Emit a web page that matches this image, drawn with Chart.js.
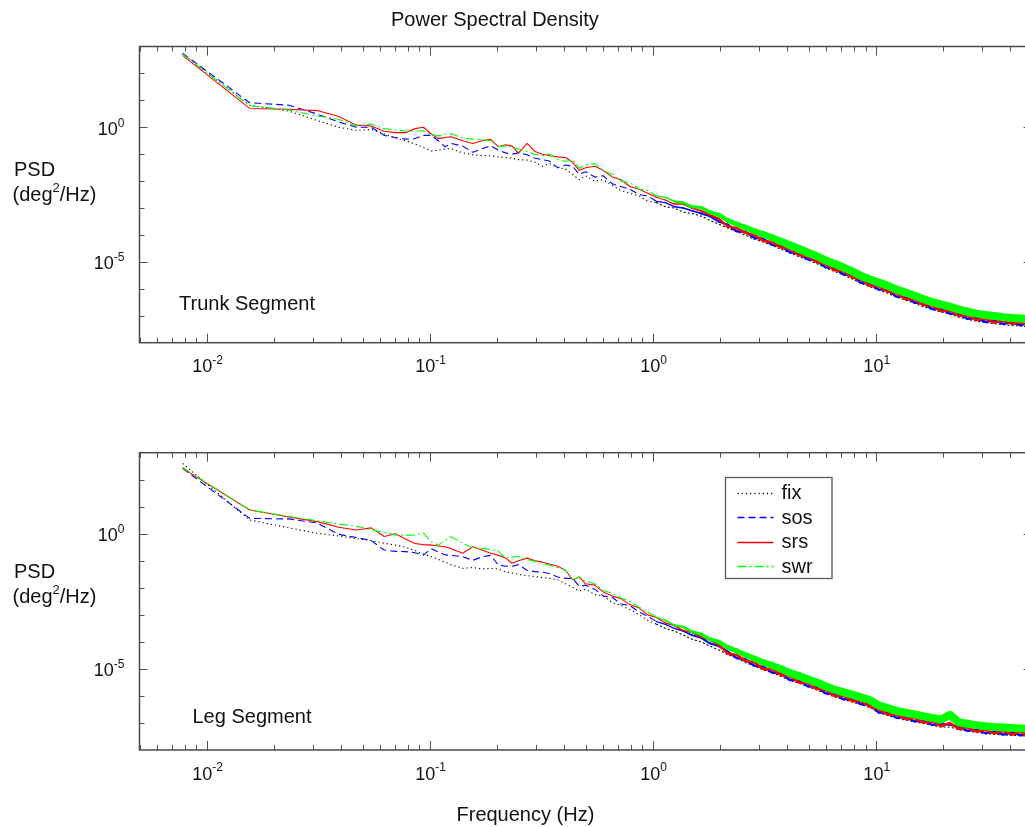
<!DOCTYPE html>
<html>
<head>
<meta charset="utf-8">
<title>Power Spectral Density</title>
<script src="https://cdn.jsdelivr.net/npm/chart.js@4.4.1/dist/chart.umd.min.js"></script>
<style>
  html, body { margin: 0; padding: 0; background: #fff; overflow: hidden; }
  #wrap { position: relative; width: 1025px; height: 827px; overflow: hidden; }
  canvas { position: absolute; left: 0; top: 0; }
</style>
</head>
<body>
<div id="wrap">
  <canvas id="trunk" width="1060" height="827"></canvas>
  <canvas id="leg" width="1060" height="827"></canvas>
</div>
<script>
// frequency bins (Hz) shared by every trace
const freqs = [
  0.0078, 0.0156, 0.0234, 0.0313, 0.0391, 0.0469, 0.0547, 0.0625,
  0.0703, 0.0781, 0.0859, 0.0938, 0.1016, 0.1094, 0.1172, 0.125,
  0.1406, 0.1563, 0.1719, 0.1875, 0.2031, 0.2188, 0.2344, 0.25,
  0.2734, 0.2969, 0.3203, 0.3438, 0.375, 0.4063, 0.4375, 0.4688,
  0.5, 0.55, 0.6, 0.66, 0.72, 0.79, 0.87, 0.95,
  1.04, 1.14, 1.25, 1.37, 1.5, 1.65, 1.8, 1.98,
  2.17, 2.38, 2.6, 2.85, 3.13, 3.43, 3.76, 4.12,
  4.52, 4.95, 5.43, 5.95, 6.52, 7.15, 7.84, 8.6,
  9.4, 10.3, 11.3, 12.4, 13.6, 14.9, 16.3, 17.9,
  19.6, 21.5, 23.6, 25.8, 28.3, 31.0, 34.0, 37.3,
  40.9, 44.8, 47
];

// PSD values as log10(deg^2/Hz)
const trunkFix = [
  2.72, 0.82, 0.6, 0.25, 0.0, -0.12, -0.08, -0.25,
  -0.4, -0.5, -0.62, -0.75, -0.88, -0.85, -0.8, -0.8,
  -0.95, -1.02, -1.05, -1.06, -1.1, -1.12, -1.15, -1.2,
  -1.22, -1.3, -1.45, -1.35, -1.5, -1.55, -1.75, -1.95,
  -1.8, -2.0, -1.95, -2.15, -2.35, -2.45, -2.55, -2.75,
  -2.8, -2.95, -3.0, -3.15, -3.2, -3.3, -3.45, -3.6,
  -3.74, -3.88, -4.0, -4.15, -4.26, -4.38, -4.53, -4.66,
  -4.8, -4.93, -5.06, -5.22, -5.35, -5.48, -5.63, -5.8,
  -5.92, -6.04, -6.16, -6.31, -6.42, -6.53, -6.66, -6.77,
  -6.86, -6.94, -7.05, -7.13, -7.2, -7.25, -7.29, -7.33,
  -7.36, -7.38, -7.4
];
const trunkSos = [
  2.75, 0.91, 0.82, 0.49, 0.2, 0.0, 0.0, -0.3,
  -0.38, -0.44, -0.42, -0.3, -0.3, -0.5, -0.72, -0.6,
  -0.7, -0.93, -0.8, -0.68, -0.85, -0.95, -1.0, -0.95,
  -1.02, -1.15, -1.2, -1.25, -1.5, -1.4, -1.45, -1.75,
  -1.65, -1.85, -1.8, -2.1, -2.2, -2.3, -2.5, -2.55,
  -2.75, -2.8, -2.95, -3.0, -3.1, -3.2, -3.3, -3.5,
  -3.62, -3.86, -3.88, -4.1, -4.14, -4.36, -4.4, -4.64,
  -4.68, -4.9, -4.94, -5.2, -5.23, -5.46, -5.5, -5.78,
  -5.8, -6.02, -6.04, -6.29, -6.3, -6.51, -6.54, -6.75,
  -6.74, -6.92, -6.93, -7.11, -7.08, -7.23, -7.17, -7.3,
  -7.24, -7.36, -7.28
];
const trunkSrs = [
  2.67, 0.7, 0.67, 0.62, 0.4, 0.08, 0.05, -0.15,
  -0.2, -0.2, -0.05, 0.0, -0.25, -0.42, -0.38, -0.35,
  -0.5, -0.6, -0.5, -0.45, -0.72, -0.65, -0.7, -0.96,
  -0.6, -0.9, -1.0, -1.05, -1.1, -1.12, -1.3, -1.6,
  -1.5, -1.45, -1.6, -1.85, -1.95, -2.2, -2.3, -2.45,
  -2.6, -2.7, -2.85, -2.85, -3.0, -3.1, -3.25, -3.4,
  -3.69, -3.74, -3.92, -3.99, -4.22, -4.26, -4.46, -4.51,
  -4.75, -4.79, -5.0, -5.07, -5.31, -5.34, -5.57, -5.65,
  -5.88, -5.9, -6.1, -6.16, -6.38, -6.39, -6.6, -6.62,
  -6.82, -6.8, -7.0, -6.98, -7.16, -7.1, -7.25, -7.18,
  -7.3, -7.24, -7.32
];
const trunkSwr = [
  2.72, 0.8, 0.64, 0.42, 0.3, 0.05, 0.12, -0.05,
  -0.1, -0.14, -0.14, -0.13, -0.28, -0.32, -0.26, -0.24,
  -0.4, -0.44, -0.46, -0.5, -0.72, -0.69, -0.75, -0.8,
  -0.9, -1.0, -1.06, -0.99, -1.2, -1.27, -1.21, -1.51,
  -1.4, -1.35, -1.6, -1.75, -2.0, -2.05, -2.3, -2.35,
  -2.55, -2.6, -2.75, -2.8, -2.95, -2.98, -3.15, -3.25,
  -3.46, -3.6, -3.72, -3.86, -3.98, -4.1, -4.24, -4.38,
  -4.52, -4.65, -4.78, -4.94, -5.07, -5.2, -5.35, -5.52,
  -5.64, -5.76, -5.88, -6.03, -6.14, -6.25, -6.38, -6.49,
  -6.58, -6.66, -6.77, -6.85, -6.92, -6.97, -7.01, -7.05,
  -7.08, -7.1, -7.12
];

const legFix = [
  2.6, 0.51, 0.22, 0.02, -0.08, -0.18, -0.25, -0.35,
  -0.42, -0.5, -0.62, -0.75, -0.85, -0.95, -1.05, -1.15,
  -1.28, -1.25, -1.3, -1.28, -1.3, -1.4, -1.45, -1.5,
  -1.55, -1.58, -1.62, -1.65, -1.7, -1.85, -1.98, -2.12,
  -2.05, -2.25, -2.3, -2.55, -2.65, -2.8, -3.0, -3.2,
  -3.35, -3.5, -3.6, -3.75, -3.9, -4.0, -4.15, -4.3,
  -4.47, -4.6, -4.76, -4.89, -5.03, -5.14, -5.28, -5.42,
  -5.53, -5.65, -5.77, -5.91, -6.03, -6.13, -6.22, -6.33,
  -6.42, -6.62, -6.72, -6.82, -6.89, -6.95, -7.02, -7.08,
  -7.15, -7.15, -7.25, -7.3, -7.35, -7.39, -7.42, -7.44,
  -7.46, -7.47, -7.48
];
const legSos = [
  2.42, 0.57, 0.55, 0.4, -0.02, -0.14, -0.25, -0.6,
  -0.65, -0.66, -0.7, -0.79, -0.55, -0.68, -0.78, -0.8,
  -0.85, -0.98, -0.85, -0.8, -1.15, -1.2, -1.2, -1.14,
  -1.35, -1.4, -1.42, -1.47, -1.6, -1.65, -1.65, -1.95,
  -1.9, -2.05, -2.3, -2.35, -2.6, -2.65, -2.9, -3.05,
  -3.25, -3.35, -3.5, -3.6, -3.75, -3.85, -4.05, -4.15,
  -4.36, -4.6, -4.64, -4.88, -4.92, -5.13, -5.16, -5.41,
  -5.42, -5.64, -5.66, -5.9, -5.92, -6.12, -6.11, -6.31,
  -6.31, -6.61, -6.61, -6.81, -6.78, -6.94, -6.91, -7.07,
  -7.04, -7.06, -7.14, -7.29, -7.24, -7.38, -7.31, -7.43,
  -7.35, -7.46, -7.37
];
const legSrs = [
  2.42, 0.88, 0.62, 0.45, 0.24, 0.14, 0.22, -0.1,
  0.0, -0.2, -0.36, -0.4, -0.42, -0.45, -0.48, -0.55,
  -0.72, -0.48, -0.6, -0.72, -0.79, -0.9, -1.09, -1.0,
  -0.9, -1.0, -1.05, -1.12, -1.2, -1.35, -1.7, -1.6,
  -1.85, -1.9, -2.15, -2.3, -2.4, -2.62, -2.75, -3.0,
  -3.1, -3.3, -3.4, -3.58, -3.65, -3.82, -3.92, -4.12,
  -4.43, -4.48, -4.7, -4.75, -5.0, -5.01, -5.22, -5.28,
  -5.5, -5.52, -5.74, -5.77, -6.0, -5.99, -6.19, -6.18,
  -6.39, -6.49, -6.69, -6.68, -6.86, -6.81, -6.99, -6.94,
  -7.12, -7.0, -7.22, -7.16, -7.32, -7.25, -7.39, -7.3,
  -7.43, -7.33, -7.45
];
const legSwr = [
  2.45, 0.88, 0.64, 0.48, 0.36, 0.28, 0.15, 0.05,
  -0.04, -0.06, -0.04, 0.03, -0.3, -0.42, -0.25, -0.11,
  -0.35, -0.52, -0.54, -0.58, -0.64, -0.9, -0.86, -0.84,
  -0.95, -1.02, -1.1, -1.16, -1.25, -1.35, -1.71, -1.6,
  -1.75, -1.85, -2.1, -2.2, -2.38, -2.5, -2.72, -2.9,
  -3.08, -3.2, -3.38, -3.45, -3.62, -3.72, -3.9, -4.0,
  -4.2, -4.34, -4.48, -4.62, -4.76, -4.87, -5.0, -5.15,
  -5.26, -5.38, -5.5, -5.64, -5.76, -5.86, -5.95, -6.05,
  -6.15, -6.35, -6.45, -6.55, -6.62, -6.68, -6.75, -6.81,
  -6.88, -6.7, -6.98, -7.03, -7.08, -7.12, -7.15, -7.17,
  -7.19, -7.2, -7.21
];

const seriesNames = ["fix", "sos", "srs", "swr"];
const xLabelExps = [-2, -1, 0, 1];
const yLabelExps = [0, -5];

const FONT = '"Liberation Sans", Arial, Helvetica, sans-serif';
const INK = "#111";

// the dense high-frequency traces are drawn as thicker strokes so they read as a band
const clampW = (lo, hi, w) => Math.max(lo, Math.min(hi, w));
const styles = {
  fix: { color: "#000000", dash: [1.2, 3], order: 3, width: () => 1.1 },
  sos: { color: "#0000ff", dash: [7, 4], order: 2, width: (f) => clampW(1.1, 2.4, 1.1 + 4 * Math.log10(f)) },
  srs: { color: "#ff0000", dash: [], order: 1, width: (f) => clampW(1.1, 2.6, 1.1 + 4 * Math.log10(f)) },
  swr: { color: "#00ff00", dash: [9, 3, 2, 3], order: 0, width: (f) => clampW(1.1, 8, 1.1 + 11 * Math.log10(f)) }
};

function makeDataset(name, vals) {
  const s = styles[name];
  return {
    label: name,
    data: freqs.map((f, i) => ({ x: f, y: Math.pow(10, vals[i]) })),
    borderColor: s.color,
    borderWidth: 1.1,
    borderDash: s.dash,
    borderJoinStyle: "round",
    pointRadius: 0,
    tension: 0,
    fill: false,
    order: s.order,
    segment: {
      borderDash: (ctx) => (name !== "fix" && freqs[ctx.p0DataIndex] >= 1 ? [] : s.dash),
      borderWidth: (ctx) => s.width(freqs[ctx.p0DataIndex]),
      borderCapStyle: (ctx) => (freqs[ctx.p0DataIndex] >= 1 ? "round" : "butt")
    }
  };
}

// draw a run of text pieces; pieces flagged sup are smaller and raised
function richText(ctx, parts, x, y, align, size) {
  const supSize = Math.round(size * 0.66);
  const widths = parts.map((p) => {
    ctx.font = (p.sup ? supSize : size) + "px " + FONT;
    return ctx.measureText(p.t).width;
  });
  const total = widths.reduce((a, b) => a + b, 0);
  let cx = align === "center" ? x - total / 2 : align === "right" ? x - total : x;
  ctx.textAlign = "left";
  ctx.textBaseline = "alphabetic";
  parts.forEach((p, i) => {
    ctx.font = (p.sup ? supSize : size) + "px " + FONT;
    ctx.fillText(p.t, cx, p.sup ? y - size * 0.45 : y);
    cx += widths[i];
  });
}

const decor = {
  id: "decor",
  afterDraw(chart, args, opts) {
    const ctx = chart.ctx;
    const a = chart.chartArea;
    const xs = chart.scales.x;
    const ys = chart.scales.y;
    ctx.save();

    // tick marks point inward on all four sides
    ctx.strokeStyle = "#505050";
    ctx.lineWidth = 1;
    ctx.beginPath();
    for (let e = -3; e <= 1; e++) {
      for (let m = 1; m <= 9; m++) {
        const v = m * Math.pow(10, e);
        if (v < xs.min || v > xs.max) continue;
        const px = Math.round(xs.getPixelForValue(v)) + 0.5;
        const len = m === 1 ? 9 : 5;
        ctx.moveTo(px, a.bottom); ctx.lineTo(px, a.bottom - len);
        ctx.moveTo(px, a.top); ctx.lineTo(px, a.top + len);
      }
    }
    for (let e = -7; e <= 2; e++) {
      const py = Math.round(ys.getPixelForValue(Math.pow(10, e))) + 0.5;
      const len = e % 5 === 0 ? 8 : 5;
      ctx.moveTo(a.left, py); ctx.lineTo(a.left + len, py);
      ctx.moveTo(a.right, py); ctx.lineTo(a.right - len, py);
    }
    ctx.stroke();

    ctx.lineWidth = 1.5;
    ctx.strokeStyle = "#4a4a4a";
    ctx.strokeRect(a.left, a.top, a.right - a.left, a.bottom - a.top);

    ctx.fillStyle = INK;
    xLabelExps.forEach((e) => {
      const px = xs.getPixelForValue(Math.pow(10, e));
      richText(ctx, [{ t: "10" }, { t: String(e), sup: true }], px + 1, a.bottom + 29.5, "center", 18);
    });
    yLabelExps.forEach((e) => {
      const py = ys.getPixelForValue(Math.pow(10, e));
      richText(ctx, [{ t: "10" }, { t: String(e), sup: true }], a.left - 15, py + 7.5, "right", 18);
    });

    // y axis title
    ctx.font = "20px " + FONT;
    ctx.textAlign = "left";
    ctx.fillText("PSD", 14, opts.psdY);
    richText(ctx, [{ t: "(deg" }, { t: "2", sup: true }, { t: "/Hz)" }], 12.5, opts.psdY + 25.5, "left", 20);

    // panel name
    ctx.font = "20px " + FONT;
    ctx.fillText(opts.panel, opts.panelX, opts.panelY);

    if (opts.title) {
      ctx.font = "20px " + FONT;
      ctx.fillText(opts.title, opts.titleX, opts.titleY);
    }
    if (opts.xTitle) {
      ctx.font = "20px " + FONT;
      ctx.fillText(opts.xTitle, opts.xTitleX, opts.xTitleY);
    }

    if (opts.legend) {
      const [lx, ly, lw, lh] = opts.legend;
      ctx.fillStyle = "#fff";
      ctx.fillRect(lx, ly, lw, lh);
      ctx.lineWidth = 1.3;
      ctx.strokeStyle = "#5a5a5a";
      ctx.strokeRect(lx, ly, lw, lh);
      seriesNames.forEach((name, i) => {
        const ds = chart.data.datasets.find((d) => d.label === name);
        const rowY = ly + 15 + i * 24.6;
        ctx.beginPath();
        ctx.setLineDash(ds.borderDash);
        ctx.strokeStyle = ds.borderColor;
        ctx.lineWidth = 1.3;
        ctx.moveTo(lx + 12, Math.round(rowY) + 0.5);
        ctx.lineTo(lx + 48, Math.round(rowY) + 0.5);
        ctx.stroke();
        ctx.setLineDash([]);
        ctx.fillStyle = INK;
        ctx.font = "20px " + FONT;
        ctx.fillText(ds.label, lx + 56, rowY + 6.5);
      });
    }
    ctx.restore();
  }
};

function buildChart(id, vals, pad, decorOpts) {
  return new Chart(document.getElementById(id), {
    type: "line",
    data: {
      datasets: seriesNames.map((n, i) => makeDataset(n, vals[i]))
    },
    options: {
      responsive: false,
      animation: false,
      devicePixelRatio: 1,
      layout: { padding: pad },
      scales: {
        x: { type: "logarithmic", min: 0.005, max: 50, display: false },
        y: { type: "logarithmic", min: 1e-8, max: 1e3, display: false }
      },
      plugins: {
        legend: { display: false },
        tooltip: { enabled: false },
        decor: decorOpts
      }
    },
    plugins: [decor]
  });
}

buildChart("trunk", [trunkFix, trunkSos, trunkSrs, trunkSwr],
  { left: 139.5, right: 28.4, top: 46.5, bottom: 484.3 },
  { panel: "Trunk Segment", panelX: 179, panelY: 309.5, psdY: 175.5,
    title: "Power Spectral Density", titleX: 391, titleY: 26 });

buildChart("leg", [legFix, legSos, legSrs, legSwr],
  { left: 139.5, right: 28.4, top: 452.7, bottom: 77 },
  { panel: "Leg Segment", panelX: 192.5, panelY: 722.5, psdY: 577.5,
    xTitle: "Frequency (Hz)", xTitleX: 456.5, xTitleY: 820.5,
    legend: [725.5, 477.5, 106.5, 101] });
</script>
</body>
</html>
